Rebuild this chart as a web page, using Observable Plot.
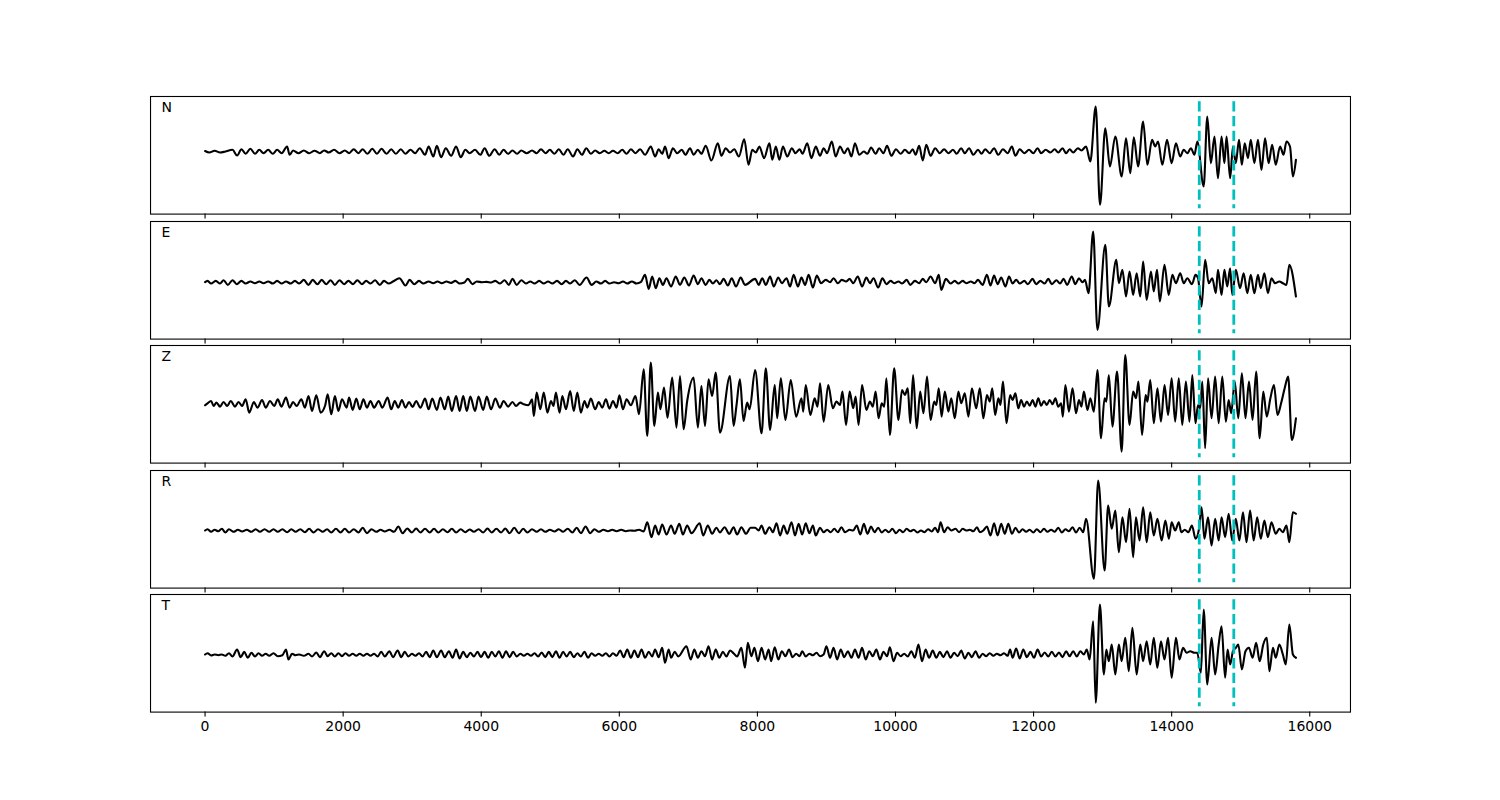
<!DOCTYPE html>
<html><head><meta charset="utf-8">
<script src="https://cdn.jsdelivr.net/npm/d3@7"></script>
<script src="https://cdn.jsdelivr.net/npm/@observablehq/plot@0.6"></script>
<style>
body{margin:0;background:#fff;}
#root{position:relative;width:1500px;height:800px;overflow:hidden;background:#fff;}
#root > svg{position:absolute;left:0;}
</style></head><body><div id="root"></div>
<script>
// Component labels
const components = ["N", "E", "Z", "R", "T"];
// Marker times (samples)
const markers = [14400, 14900];
// X tick values
const xTicks = [0, 2000, 4000, 6000, 8000, 10000, 12000, 14000, 16000];
// Amplitude ranges per panel [min, max] (relative units)
const ampRanges = [[-62.6, 55], [-56.9, 60.7], [-58.8, 58.8], [-57.6, 60], [-57.6, 60]];

// Traces: [time, amplitude] turning points
const traceN = [[0,0.5],[62,-1],[139,0.7],[217,-1],[294,0],[397,1.7],[464,-4],[527,2.3],[588,-2.3],[656,2.7],[723,-2.3],[785,1.7],[847,-1.7],[914,1.7],[981,-2.3],[1043,1.7],[1110,-1.7],[1188,5],[1224,-3.3],[1275,1],[1353,-1.7],[1430,1],[1508,-1.7],[1585,0.7],[1663,-1.7],[1725,1],[1792,-1],[1869,1.7],[1947,-1.7],[2024,1],[2086,-1.7],[2153,2.3],[2221,-1.7],[2283,2.3],[2350,-2.3],[2422,2.7],[2489,-2.3],[2556,2.7],[2629,-2.3],[2696,2.3],[2763,-2.3],[2835,2.3],[2902,-2.3],[2975,1.7],[3042,-1.7],[3109,3.3],[3186,-3.3],[3238,5],[3305,-5],[3357,5.7],[3419,-5.7],[3486,3.3],[3564,-4.3],[3636,5],[3703,-5.7],[3770,1.7],[3832,-1.7],[3910,1.7],[3987,-3.3],[4049,3.3],[4116,-4.3],[4194,2.3],[4261,-3.3],[4323,1.7],[4390,-2.3],[4452,1],[4519,-2.3],[4581,1],[4658,-1.7],[4736,1],[4803,-1.7],[4865,2.3],[4932,-1.7],[4994,1.7],[5061,-2.3],[5123,2.3],[5191,-3.3],[5252,2.3],[5330,-5],[5392,2.3],[5459,-3.3],[5521,3.3],[5588,-2.3],[5650,1],[5717,-1.7],[5784,0.7],[5846,-1.7],[5908,0.7],[5976,-1.7],[6043,1.7],[6105,-2.3],[6167,2.3],[6234,-1.7],[6301,2.3],[6373,-3.3],[6456,5],[6518,-5],[6570,2.3],[6621,-2.3],[6663,5],[6714,-6.7],[6776,3.3],[6838,-1.7],[6905,1.7],[6957,-3.3],[7024,3.3],[7076,-3.3],[7138,1.7],[7189,-2.3],[7251,5.7],[7334,-9],[7427,8.3],[7479,-4.3],[7541,3.3],[7603,-1],[7665,2.3],[7732,-5],[7809,12.3],[7871,-13.3],[7926,1.7],[7977,-1],[8029,5],[8096,-6.7],[8174,8.3],[8215,-8.3],[8267,5],[8318,-8.3],[8370,5],[8432,-5],[8499,3.3],[8551,-1.7],[8613,2.3],[8654,-2.3],[8721,8.3],[8783,-6.7],[8845,5],[8907,-4.3],[8959,3.3],[9010,-1.7],[9077,10],[9134,-5],[9196,5],[9258,-1.7],[9310,3.3],[9362,-5],[9413,8.3],[9475,-3.3],[9542,0],[9594,-2.3],[9646,4],[9713,-2.3],[9764,3.3],[9826,-1.7],[9878,5.7],[9940,-4.3],[10007,2.3],[10074,-2.3],[10136,1.7],[10198,-1.7],[10250,2.3],[10291,-3.3],[10343,5.7],[10395,-9],[10446,6.7],[10508,-4.3],[10575,3.3],[10642,-1.7],[10704,2.3],[10766,-1.7],[10834,1.7],[10885,-2.3],[10952,3.3],[11004,-1.7],[11066,3.3],[11128,-3.3],[11195,1.7],[11247,-2.3],[11298,2.3],[11365,-1.7],[11428,3.3],[11489,-3.3],[11556,2.3],[11624,-1.7],[11686,5],[11737,-4.3],[11799,2.3],[11866,-1.7],[11934,1.7],[11996,-1.7],[12058,3.3],[12109,-1.7],[12176,1.7],[12243,-1],[12306,2.3],[12357,-1],[12419,3.3],[12471,-1.7],[12522,2.3],[12574,-1],[12641,3.3],[12693,1],[12760,5],[12822,-10],[12900,45],[12962,-53.3],[13039,23.3],[13106,-15],[13184,15],[13277,-25],[13339,13.3],[13401,-21.7],[13452,14.3],[13514,-15],[13587,30],[13648,-13.3],[13716,11.7],[13762,5],[13803,10],[13865,-13.3],[13933,11.7],[14000,-11.7],[14062,8.3],[14124,-5],[14175,1.7],[14227,-1.7],[14279,3.3],[14330,-3.3],[14372,10],[14464,-35],[14516,35],[14568,-11.7],[14620,15],[14671,-26.7],[14723,15],[14764,-11.7],[14795,15],[14847,-26.7],[14888,5],[14929,-11.7],[14976,11.7],[15017,-13.3],[15058,8.3],[15105,-6.7],[15146,11.7],[15198,-11.7],[15250,11.7],[15301,-18.3],[15353,13.3],[15404,-11.7],[15456,6.7],[15508,-13.3],[15570,5],[15621,-3.3],[15663,10],[15714,5],[15756,-25],[15800,-8.3]];

const traceE = [[0,0],[36,1.3],[87,-1.3],[155,1.3],[217,-1.3],[268,2],[330,-2.7],[397,2],[459,-2],[527,1.3],[588,-1.3],[656,0.7],[723,-1],[785,0.7],[847,-1],[914,0.7],[981,-1.3],[1043,1.3],[1110,-1.3],[1172,0.7],[1239,-1.3],[1301,1.3],[1363,-1.3],[1430,2.3],[1497,-2.7],[1560,2.3],[1627,-2],[1689,2.3],[1756,-2],[1818,2],[1880,-2.7],[1947,2],[2014,-2],[2076,1.3],[2143,-2],[2205,2],[2272,-2],[2334,1.3],[2396,-1.3],[2463,2],[2531,-2.7],[2592,1.3],[2660,-1.3],[2722,0.7],[2815,4],[2902,-3.3],[2964,2.3],[3031,-2],[3099,1.3],[3161,-1.3],[3238,0.7],[3305,-1],[3367,0.7],[3429,-1],[3496,0.7],[3564,-0.7],[3625,1.3],[3687,-1.3],[3755,-0.3],[3806,3.3],[3873,-2],[3935,0.7],[4013,0],[4080,0.3],[4142,-0.3],[4204,1.3],[4271,-1.3],[4338,2],[4400,-2.7],[4452,3.3],[4514,-2.7],[4581,2],[4648,-1.3],[4710,0.7],[4772,-1.3],[4839,1.3],[4906,-1.3],[4968,0.7],[5030,-1.3],[5097,1.3],[5165,-2],[5227,1.3],[5288,-1.3],[5356,2],[5423,-2.7],[5526,4.7],[5599,-2.7],[5666,0.7],[5733,-1.3],[5795,1.3],[5857,-1.3],[5924,0],[5991,-1],[6053,0.7],[6115,-1.3],[6182,0.7],[6249,-1.3],[6311,0],[6373,7.3],[6425,-6.7],[6476,5.7],[6528,-6],[6580,4],[6631,-2.7],[6683,4],[6750,-4.3],[6817,5.7],[6879,-2.7],[6941,4.7],[7009,-3.3],[7076,6.7],[7138,-2],[7189,4],[7251,-2.7],[7303,2.3],[7355,-1.3],[7406,2],[7458,-2],[7510,3.3],[7572,-3.3],[7628,4],[7690,-4.3],[7758,4.7],[7820,-2.7],[7967,3.3],[8019,-2.7],[8070,4],[8122,-2.7],[8184,5.7],[8236,-4.3],[8303,4.7],[8354,-1],[8421,4],[8473,-4.3],[8525,7.3],[8587,-4.3],[8638,4.7],[8690,-2.7],[8742,7.3],[8804,-5.3],[8860,6.7],[8922,-1],[8990,2.3],[9052,0],[9103,4],[9165,-1],[9222,2.3],[9284,0.7],[9336,3.3],[9387,-1],[9454,5.7],[9516,-4.3],[9578,4.7],[9630,-1],[9682,4],[9749,-5.3],[9811,4],[9868,-2],[9930,1.3],[9981,-1],[10043,0.7],[10095,-1.3],[10162,2.3],[10214,-2.7],[10281,1.3],[10343,-1],[10395,3.3],[10446,0],[10508,5.7],[10575,-1],[10627,7.3],[10663,-7.7],[10730,3.3],[10797,-1.3],[10859,1.3],[10911,-1.3],[10973,1.3],[11025,-1],[11092,0.7],[11143,-1],[11195,2.3],[11262,-2.7],[11324,7.3],[11376,-3.3],[11428,6.7],[11479,-2],[11531,4.7],[11593,-4.3],[11644,5.7],[11696,-1.3],[11748,2.3],[11799,-1.3],[11866,1.3],[11918,-2],[11985,3.3],[12037,-2],[12099,1.3],[12161,-1.3],[12213,3.3],[12264,-2],[12331,2],[12383,-1.3],[12435,3.3],[12486,-2.7],[12553,5.7],[12605,-2],[12657,4],[12708,0],[12745,2.3],[12796,-11],[12863,50.7],[12925,-47.7],[13039,37.3],[13091,-24.3],[13199,22.3],[13235,-1],[13287,12.3],[13339,-14.3],[13390,10.7],[13442,-12.7],[13493,9],[13545,-14.3],[13587,20.7],[13638,-17.7],[13700,10.7],[13741,-9.3],[13788,12.3],[13829,-19.3],[13896,17.3],[13958,-12.7],[14010,7.3],[14062,-1],[14124,9],[14175,-1],[14227,4],[14294,-2],[14346,7.3],[14382,4],[14433,-24.3],[14485,22.3],[14537,-1],[14588,4],[14640,-11],[14671,12.3],[14723,-12.7],[14764,12.3],[14805,-4.3],[14847,14],[14878,-12.7],[14930,12.3],[14991,-6],[15043,9],[15095,-11],[15146,7.3],[15198,-11],[15250,7.3],[15291,-6],[15343,9],[15394,-11],[15446,4],[15497,-1],[15559,0.7],[15611,-1],[15663,-2.7],[15704,17.3],[15800,-14.3]];

const traceZ = [[0,-1],[36,1],[87,3.3],[124,-1.7],[165,1.7],[217,-2.3],[268,2.3],[320,-1.7],[372,3.3],[433,-2.3],[485,2.3],[537,-1.7],[588,5],[640,-8.3],[707,2.3],[759,-3.3],[826,4.3],[878,-3.3],[940,3.3],[1002,-1.7],[1053,5],[1105,-2.3],[1172,6.7],[1224,-3.3],[1275,2.3],[1327,-1.7],[1394,5],[1446,-3.3],[1498,8.3],[1549,-6.7],[1611,9],[1673,-8.3],[1740,-1],[1776,10],[1828,-10],[1880,8.3],[1931,-6.7],[1983,5],[2050,-3.3],[2086,6.7],[2138,-5.7],[2190,5.7],[2241,-5],[2293,5],[2345,-3.3],[2396,3.3],[2448,-3.3],[2515,3.3],[2567,-3.3],[2644,6.7],[2696,-5],[2747,3.3],[2799,-3.3],[2851,4.3],[2902,-3.3],[2954,2.3],[3006,-2.7],[3057,3.3],[3119,-3.3],[3186,5.7],[3238,-5],[3290,5.7],[3357,-5.7],[3409,6.7],[3471,-5],[3522,7.7],[3574,-6.7],[3636,8.3],[3687,-6.7],[3739,8.3],[3791,-6.7],[3842,7.7],[3910,-6.7],[3961,7.7],[4028,-5.7],[4080,7.7],[4142,-5],[4204,5.7],[4271,-3.3],[4323,3.3],[4390,-2.3],[4452,2.3],[4504,-1.7],[4566,1.7],[4617,0],[4684,-1],[4736,5],[4762,-11.7],[4803,11.7],[4855,-5],[4906,11.7],[4958,-8.3],[5010,3.3],[5046,-1.7],[5082,11.7],[5134,-8.3],[5175,8.3],[5227,-5],[5288,13.3],[5340,-6.7],[5392,11.7],[5443,-8.3],[5495,3.3],[5536,-3.3],[5588,5.7],[5650,-5],[5702,2.3],[5753,-3.3],[5805,5],[5857,-4.3],[5908,3.3],[5960,-3.3],[6001,9],[6053,-5],[6105,5],[6167,-1],[6234,8.3],[6285,-10],[6353,35],[6404,-31.7],[6456,41.7],[6507,-21.7],[6559,11.7],[6595,-5],[6647,16.7],[6698,-13.3],[6766,26.7],[6828,-23.3],[6879,28.3],[6931,-25],[6983,3.3],[7076,26.7],[7138,-23.3],[7189,18.3],[7241,-21.7],[7292,25],[7344,8.3],[7396,31.7],[7458,-28.3],[7603,28.3],[7655,-21.7],[7696,-1.7],[7747,25],[7799,-16.7],[7851,1.7],[7887,-5],[7967,34.3],[8060,-29],[8122,36],[8184,-25.7],[8251,19.3],[8287,-14],[8339,26],[8406,-15.7],[8483,24.3],[8561,-12.3],[8638,6],[8664,-7.3],[8700,19.3],[8767,-10.7],[8829,6],[8871,-2.3],[8907,21],[8959,-17.3],[9026,19.3],[9093,-4],[9145,2.7],[9196,-0.7],[9232,12.7],[9284,-20.7],[9336,12.7],[9387,-4],[9423,7.7],[9465,-20.7],[9516,19.3],[9578,-5.7],[9630,2.7],[9671,-2.3],[9713,12.7],[9754,-14],[9801,1],[9837,-2.3],[9868,26],[9919,-30.7],[9981,36],[10043,-15.7],[10095,14.3],[10136,9.3],[10178,16],[10214,-19],[10255,29.3],[10307,-24],[10358,12.7],[10405,-9],[10457,27.7],[10508,-15.7],[10560,2.7],[10591,-0.7],[10627,16],[10668,-12.3],[10715,12.7],[10766,-7.3],[10808,6],[10859,-14],[10911,12.7],[10952,1],[11004,11],[11056,-12.3],[11107,16],[11169,-4],[11221,16],[11273,-14],[11324,9.3],[11366,2.7],[11402,16],[11443,-10.7],[11490,6],[11521,-0.7],[11557,22.7],[11608,-19],[11660,9.3],[11696,4.3],[11737,11],[11779,-4],[11820,4.3],[11861,-2.3],[11903,2.7],[11944,-1.3],[11985,4.3],[12027,-2.3],[12068,6],[12109,-1.3],[12151,3.3],[12192,-0.7],[12233,4.3],[12275,0],[12316,6],[12357,-2.3],[12399,1],[12424,-12.3],[12461,19.3],[12512,-7.3],[12564,16],[12615,-9],[12657,4.3],[12693,-2.3],[12729,12.7],[12781,-5.7],[12822,6],[12874,-7.3],[12925,34.3],[12977,-34],[13028,6],[13054,2.7],[13090,29.3],[13142,-22.3],[13209,32.7],[13276,-47.3],[13328,49.3],[13390,-20.7],[13442,12.7],[13484,6],[13519,22.7],[13571,-30.7],[13623,9.3],[13649,2.7],[13690,24.3],[13742,-19],[13794,16],[13845,-17.3],[13897,19.3],[13948,-10.7],[14000,26],[14051,-17.3],[14103,26],[14154,-20.7],[14206,22.7],[14258,-17.3],[14299,29.3],[14345,-19],[14382,-0.7],[14413,-4],[14444,22.7],[14485,-44],[14527,26],[14578,-14],[14630,27.7],[14681,-19],[14733,27.7],[14785,-17.3],[14826,4.3],[14862,-9],[14914,22.7],[14965,-14],[15017,31],[15069,-14],[15120,22.7],[15172,-15.7],[15224,32.7],[15275,-34],[15327,12.7],[15378,-12.3],[15430,6],[15482,19.3],[15533,-10.7],[15585,1],[15637,16],[15688,27.7],[15740,-35.7],[15800,-14]];

const traceR = [[0,0],[36,1.3],[87,-1.3],[139,0.7],[191,-0.7],[242,1.7],[294,-2],[346,1.3],[413,-1.3],[475,0.7],[537,-1],[604,0.7],[671,-1.3],[733,1.3],[795,-1.3],[862,1.3],[929,-1.3],[991,1.3],[1053,-1.3],[1120,1.3],[1188,-1.7],[1250,1.3],[1311,-1.3],[1379,1.3],[1446,-1.7],[1508,1.7],[1570,-2],[1637,1.3],[1704,-1.3],[1766,1.3],[1828,-2],[1895,1.7],[1962,-2],[2024,1.7],[2086,-2],[2153,1.3],[2221,-2],[2283,2.7],[2345,-2.7],[2412,1.3],[2479,-1.3],[2541,0.7],[2603,-1],[2670,0.7],[2737,-1.3],[2799,4],[2861,-2.7],[2928,2],[2995,-2],[3057,2],[3119,-2],[3186,1.7],[3254,-2],[3316,1.7],[3378,-2],[3445,1.3],[3512,-1.7],[3574,1.7],[3636,-2],[3703,1.3],[3770,-1.7],[3832,1],[3894,-1.3],[3961,1.3],[4028,-2],[4090,2],[4152,-2],[4219,1.7],[4287,-2],[4349,2],[4411,-2.7],[4478,2.7],[4545,-2.7],[4607,1.7],[4669,-2],[4736,1.3],[4803,-1.3],[4865,1.3],[4927,-1.3],[4994,0.7],[5061,-1],[5123,1.3],[5185,-1.3],[5252,1.7],[5320,-2],[5382,2.7],[5444,-2.7],[5511,4],[5578,-2.7],[5640,1.3],[5702,-1.3],[5769,0.7],[5836,-0.7],[5898,0.7],[5960,-0.7],[6027,0.7],[6094,-0.7],[6156,0],[6218,-0.3],[6285,0.7],[6353,-1],[6405,8.3],[6466,-6.7],[6518,5],[6570,-4],[6621,6],[6683,-4],[6750,5],[6802,-3.3],[6869,6.7],[6921,-4],[6983,5],[7045,-2.7],[7164,7.3],[7215,-5],[7282,5],[7344,-3.3],[7406,2.7],[7458,-2],[7525,3.3],[7592,-3.3],[7655,3.3],[7706,-4],[7768,3.3],[7835,-3.3],[7902,2.7],[7967,2.7],[8019,0],[8060,5],[8112,-3.3],[8174,3.3],[8225,-1.7],[8277,7.3],[8329,-5],[8380,5],[8432,-3.3],[8494,8.3],[8545,-5],[8597,6.7],[8649,-4],[8700,7.3],[8752,-2.7],[8804,5],[8845,-5],[8907,2.7],[8959,-1.7],[9010,0.7],[9062,-1.7],[9114,1.7],[9165,-1.7],[9217,3.3],[9269,-1.7],[9336,0.7],[9387,0],[9439,5],[9491,-4],[9542,6.7],[9594,-3.3],[9646,4],[9697,-1.7],[9749,2.7],[9801,-2],[9852,0.7],[9904,-1.7],[9955,1.7],[10007,-2.7],[10059,0.7],[10110,-1.7],[10162,1.7],[10214,-0.7],[10265,0.7],[10317,-2],[10369,0],[10420,-1.7],[10472,1.3],[10524,-1],[10575,2.7],[10617,-1.7],[10653,8.3],[10704,-1.7],[10756,3.3],[10808,0],[10870,1.7],[10921,-1.7],[10973,1.7],[11025,0],[11076,0.7],[11128,-0.7],[11180,3.3],[11221,-1.7],[11273,0],[11324,4],[11376,-5],[11428,7.3],[11479,-5],[11531,6.7],[11583,-3.3],[11634,6.7],[11686,-3.3],[11737,2.7],[11789,-2],[11841,1.3],[11892,-1.3],[11944,0.7],[11996,-2],[12047,1.3],[12099,-1.7],[12151,1.7],[12202,-1.3],[12254,0.7],[12306,-1.3],[12357,2.7],[12409,-2],[12461,1.3],[12512,-0.7],[12564,3.3],[12615,-2],[12667,2.7],[12719,-1.7],[12760,11.7],[12874,-48.3],[12936,50],[13029,-40],[13080,25],[13132,1.7],[13184,20],[13235,-21.7],[13287,13.3],[13339,-11.7],[13390,21.7],[13442,-26.7],[13483,13.3],[13535,-10],[13587,23.3],[13638,-11.7],[13690,18.3],[13741,-5],[13794,11.7],[13855,-10],[13909,10],[13960,-8.3],[14000,8.3],[14051,0],[14103,8.3],[14139,-1.7],[14191,0.7],[14242,-1.7],[14294,5],[14346,-8.3],[14397,1.7],[14433,23.3],[14475,-8.3],[14527,13.3],[14578,-15],[14630,11.7],[14681,-10],[14723,13.3],[14774,-6.7],[14826,16.7],[14877,-10],[14929,11.7],[14981,-10],[15033,18.3],[15084,-11.7],[15136,20],[15188,-10],[15239,13.3],[15291,-8.3],[15343,10],[15394,-6.7],[15446,8.3],[15508,-3.3],[15559,1.7],[15611,-1.7],[15663,5],[15704,-11.7],[15756,18.3],[15800,16.7]];

const traceT = [[0,0],[36,1.3],[87,-1],[139,0],[191,-0.7],[242,0],[294,-1.3],[346,1.3],[397,-2],[464,5],[516,-2.7],[568,2.7],[619,-3.3],[671,1.7],[723,-2],[774,1.3],[826,-1.3],[878,0.7],[929,-1.3],[991,1.3],[1053,-1.7],[1120,-0.7],[1172,5],[1208,-5],[1260,0.7],[1311,-0.7],[1363,0],[1430,-1.3],[1498,0.7],[1549,-2],[1611,2],[1663,-2.7],[1725,3.3],[1776,-1.7],[1828,1.3],[1880,-2],[1931,1.3],[1983,-1.7],[2035,1.3],[2086,-1.3],[2138,0.7],[2190,-1.3],[2241,0.7],[2293,-1.3],[2345,0.7],[2396,-1.3],[2448,0.7],[2500,-2],[2551,2.7],[2603,-2],[2670,3.3],[2722,-2.7],[2789,4],[2841,-2.7],[2892,2.7],[2944,-2],[2995,0.7],[3047,-1.3],[3099,1.3],[3150,-2],[3202,2.7],[3254,-2.7],[3305,4],[3357,-2.7],[3419,4],[3471,-2.7],[3532,3.3],[3584,-3.3],[3636,5],[3687,-4],[3739,2.7],[3791,-2.7],[3842,1.7],[3894,-2],[3946,2.7],[3997,-2.7],[4049,2.7],[4101,-3.3],[4152,2.7],[4204,-2],[4256,3.3],[4307,-3.3],[4359,3.3],[4411,-2.7],[4462,2.7],[4514,-2],[4566,0.7],[4617,-1.3],[4669,0.7],[4720,-1.3],[4772,1.3],[4824,-2],[4875,2],[4927,-2.7],[4979,2.7],[5030,-2.7],[5082,3.3],[5134,-3.3],[5185,2.7],[5237,-2],[5288,2.7],[5340,-2.7],[5392,1.3],[5443,-2],[5495,2.7],[5547,-3.3],[5598,1.3],[5650,-1.3],[5702,0.7],[5753,-1.3],[5805,1.3],[5857,-2],[5908,1.3],[5960,-1.3],[6012,4],[6063,-2.7],[6115,5],[6167,-3.3],[6218,4],[6270,-2.7],[6322,5],[6373,-3.3],[6425,2.7],[6476,-2],[6518,5],[6570,-2.7],[6621,6.7],[6662,-8.3],[6714,5],[6750,-3.3],[6802,2.7],[6854,-2],[6972,8.3],[7034,-5],[7086,5],[7138,-3.3],[7189,3.3],[7241,-1.7],[7292,8.3],[7344,-5],[7396,5],[7448,-3.3],[7499,2.7],[7551,-2],[7603,4],[7654,1.3],[7706,-2],[7768,6.7],[7820,-13.3],[7861,11.7],[7913,-1.7],[7957,6.7],[8008,-6.7],[8060,6.7],[8112,-5],[8163,5],[8199,-6.7],[8251,7.3],[8303,-5],[8354,3.3],[8406,-1.7],[8458,5],[8509,-2.7],[8561,0.7],[8613,-1.7],[8649,3.3],[8700,-2],[8752,0.7],[8804,-0.7],[8855,1.7],[8907,-1.7],[8959,0],[9000,8.3],[9052,-3.3],[9103,6.7],[9155,-5],[9207,5],[9258,-2.7],[9310,3.3],[9362,-3.3],[9413,5],[9465,-3.3],[9516,6.7],[9568,-5],[9620,3.3],[9671,-1.7],[9723,5],[9775,-5],[9826,2.7],[9878,-1.7],[9919,7.3],[9971,-6.7],[10023,1.7],[10074,-1.7],[10126,0.7],[10178,-2],[10229,3.3],[10281,-3.3],[10332,10],[10384,-6.7],[10436,5],[10487,-3.3],[10539,4],[10591,-3.3],[10642,2.7],[10694,-2.7],[10746,3.3],[10797,-3.3],[10849,1.7],[10901,-1.7],[10952,4],[11004,-4],[11056,1.7],[11107,-2.7],[11159,3.3],[11211,-3.3],[11262,0.7],[11314,-1.7],[11366,1.3],[11417,-1.3],[11469,0.7],[11520,-0.7],[11572,1.3],[11624,-1.3],[11660,5],[11696,-3.3],[11748,6],[11799,-4],[11851,5],[11903,-2.7],[11954,2.7],[12006,-3.3],[12058,5],[12109,-2],[12161,2],[12213,-2],[12264,2.7],[12316,-2],[12367,2],[12419,-2.7],[12471,3.3],[12522,-1.7],[12574,3.3],[12626,-2],[12677,3.3],[12729,0],[12770,5],[12812,-5],[12863,33.3],[12900,-48.3],[12961,50],[13018,-20],[13054,5],[13090,-6.7],[13132,10],[13184,-20],[13235,10],[13276,-6.7],[13328,16.7],[13379,-16.7],[13431,26.7],[13493,-20],[13545,10],[13587,-6.7],[13638,13.3],[13690,-10],[13741,16.7],[13793,-13.3],[13845,13.3],[13896,-5],[13948,16.7],[14000,-23.3],[14062,16.7],[14113,-5],[14165,6.7],[14217,1.7],[14268,3.3],[14330,1.7],[14372,1.7],[14423,-18.3],[14464,45],[14516,-30],[14578,16.7],[14630,-20],[14681,10],[14723,28.3],[14774,-23.3],[14810,5],[14847,-10],[14888,3.3],[14929,6.7],[14965,10],[15017,-15],[15069,3.3],[15120,6.7],[15172,-3.3],[15224,11.7],[15275,-6.7],[15327,10],[15378,16.7],[15415,-16.7],[15467,6.7],[15508,-3.3],[15559,10],[15611,0],[15653,-10],[15704,30],[15756,0],[15800,-3.3]];

const traces = [traceN, traceE, traceZ, traceR, traceT];

// Layout
const W = 1500, ML = 150, MR = 150;
const panelTop0 = 96, panelStep = 124.6, panelH = 117.6;
const root = document.getElementById("root");

components.forEach((comp, i) => {
  const last = i === components.length - 1;
  const mt = 1, mb = last ? 40 : 6;
  const svg = Plot.plot({
    width: W,
    height: panelH + mt + mb,
    marginLeft: ML, marginRight: MR, marginTop: mt, marginBottom: mb,
    style: {background: "transparent", overflow: "visible", fontFamily: "DejaVu Sans, sans-serif", fontSize: "14px", color: "black"},
    x: {domain: [-790, 16590]},
    y: {domain: ampRanges[i], axis: null},
    marks: [
      Plot.line(traces[i], {x: d => d[0], y: d => d[1], stroke: "black", strokeWidth: 2.1, strokeLinejoin: "round", curve: "monotone-x"}),
      Plot.ruleX(markers, {stroke: "#00bfbf", strokeWidth: 2.8, strokeDasharray: "10.3,4.4", insetTop: 5.3, insetBottom: 5.3}),
      Plot.frame({stroke: "black", strokeWidth: 1.1}),
      Plot.axisX({ticks: xTicks, tickSize: 4.9, tickPadding: 4, tickFormat: last ? (d => String(d)) : (() => ""), fontSize: 14, stroke: "black", strokeWidth: 1.1}),
      Plot.text([comp], {text: d => d, frameAnchor: "top-left", textAnchor: "start", lineAnchor: "top", dx: 11, dy: 6, fontSize: 14, fill: "black"})
    ]
  });
  svg.style.top = (panelTop0 + i * panelStep - mt) + "px";
  root.appendChild(svg);
});
</script>
</body></html>
